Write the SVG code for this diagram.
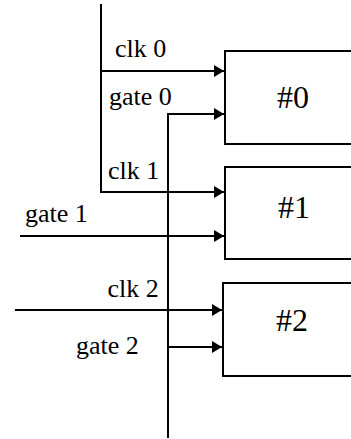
<svg xmlns="http://www.w3.org/2000/svg" width="351" height="439" viewBox="0 0 351 439">
  <style>
    .wire { fill: none; stroke: #000; stroke-width: 2; }
    .box { fill: #fff; stroke: #000; stroke-width: 2; }
    text { font-family: "Liberation Serif", "Times New Roman", serif; fill: #000; }
  </style>
  <defs>
    <marker id="arrow" viewBox="0 0 10 12" refX="10" refY="6" markerWidth="10" markerHeight="12" markerUnits="userSpaceOnUse" orient="auto">
      <path d="M0,0 L10,6 L0,12 Z" fill="#000"/>
    </marker>
  </defs>

  <!-- counters -->
  <g id="counter0">
    <rect class="box" x="225" y="51" width="140" height="93"/>
    <text x="277" y="108" font-size="32">#0</text>
  </g>
  <g id="counter1">
    <rect class="box" x="225" y="167" width="140" height="92"/>
    <text x="278" y="218" font-size="32">#1</text>
  </g>
  <g id="counter2">
    <rect class="box" x="223" y="283" width="140" height="93"/>
    <text x="276" y="330.5" font-size="32">#2</text>
  </g>

  <!-- clock and gate wiring -->
  <g id="connectors">
    <!-- shared clock bus feeding clk 0 and clk 1 -->
    <path class="wire" d="M101,4 V192 H224" marker-end="url(#arrow)"/>
    <path class="wire" d="M101,71 H224" marker-end="url(#arrow)"/>
    <!-- shared gate bus feeding gate 0 and gate 2 -->
    <path class="wire" d="M168,438 V114 H224" marker-end="url(#arrow)"/>
    <path class="wire" d="M168,347 H222" marker-end="url(#arrow)"/>
    <!-- gate 1 input -->
    <path class="wire" d="M20,236 H224" marker-end="url(#arrow)"/>
    <!-- clk 2 input -->
    <path class="wire" d="M15,310 H222" marker-end="url(#arrow)"/>
  </g>

  <!-- signal labels -->
  <g id="labels" font-size="26">
    <text x="115" y="57">clk 0</text>
    <text x="109" y="105">gate 0</text>
    <text x="108" y="179">clk 1</text>
    <text x="25" y="222">gate 1</text>
    <text x="107.5" y="296.5">clk 2</text>
    <text x="76" y="354">gate 2</text>
  </g>
</svg>
